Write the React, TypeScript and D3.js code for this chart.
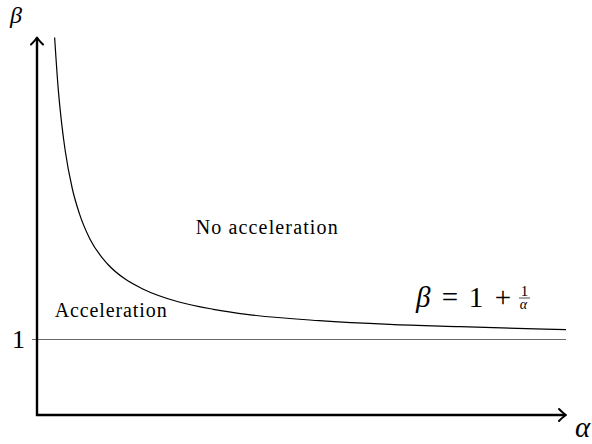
import React from "react";
import * as d3 from "d3";

const width = 592;
const height = 444;

const alphaValues = [0.25, 0.3, 0.35, 0.4, 0.5, 0.6, 0.75, 1, 1.25, 1.5, 2, 2.5, 3, 4, 5, 6, 7.5];
const betaValues = [5, 4.33, 3.86, 3.5, 3, 2.67, 2.33, 2, 1.8, 1.67, 1.5, 1.4, 1.33, 1.25, 1.2, 1.17, 1.13];

const yTicks = [1];
const yTickLabels = ["1"];

const regionLabels = ["No acceleration", "Acceleration"];
const regionAt = [
  { a: 2.25, b: 2.4 },
  { a: 0.25, b: 1.3 },
];

const x = d3.scaleLinear().domain([0, 7.5]).range([37, 566]);
const y = d3.scaleLinear().domain([0, 5]).range([415, 37.5]);

const serif = {
  fontFamily:
    '"Liberation Serif", "DejaVu Serif", "Times New Roman", Times, "Noto Serif", "Nimbus Roman", FreeSerif, serif',
};

const App = () => {
  const points: [number, number][] = alphaValues.map((a, i) => [a, betaValues[i]]);
  const line = d3
    .line<[number, number]>()
    .x((d) => x(d[0]))
    .y((d) => y(d[1]))
    .curve(d3.curveMonotoneX);

  const x0 = x(0);
  const y0 = y(0);
  const xEnd = x(7.5);
  const yTop = y(5);

  return (
    <div style={{ position: "absolute", left: 0, top: 0 }}>
      <svg width={width} height={height} style={{ display: "block", background: "#fff" }}>
        {/* beta = 1 reference line */}
        {yTicks.map((t, i) => (
          <g key={i}>
            <line x1={x0 - 5} x2={xEnd} y1={y(t)} y2={y(t)} stroke="#6a6a6a" strokeWidth={1.2} />
            <text x={x0 - 12} y={y(t) + 8.5} textAnchor="end" style={serif} fontSize={26}>
              {yTickLabels[i]}
            </text>
          </g>
        ))}

        {/* curve */}
        <path d={line(points) || ""} fill="none" stroke="#000" strokeWidth={1.2} />

        {/* axes */}
        <line x1={x0} x2={x0} y1={y0 + 1} y2={yTop + 1} stroke="#000" strokeWidth={2.4} />
        <line x1={x0 - 1} x2={xEnd - 1} y1={y0} y2={y0} stroke="#000" strokeWidth={2.4} />
        <path
          d={`M${x0 - 6},${yTop + 7} Q${x0 - 1.5},${yTop + 2.5} ${x0},${yTop} Q${x0 + 1.5},${yTop + 2.5} ${x0 + 6},${yTop + 7}`}
          fill="none"
          stroke="#000"
          strokeWidth={2}
          strokeLinecap="round"
          strokeLinejoin="round"
        />
        <path
          d={`M${xEnd - 7},${y0 - 6} Q${xEnd - 2.5},${y0 - 1.5} ${xEnd},${y0} Q${xEnd - 2.5},${y0 + 1.5} ${xEnd - 7},${y0 + 6}`}
          fill="none"
          stroke="#000"
          strokeWidth={2}
          strokeLinecap="round"
          strokeLinejoin="round"
        />

        {/* axis names */}
        <text x={10} y={23} style={serif} fontStyle="italic" fontSize={24}>
          β
        </text>
        <text x={575} y={437} style={serif} fontStyle="italic" fontSize={29}>
          α
        </text>

        {/* region labels */}
        <text
          x={x(regionAt[0].a)}
          y={y(regionAt[0].b)}
          style={serif}
          fontSize={20}
          textLength={142}
          lengthAdjust="spacing"
        >
          {regionLabels[0]}
        </text>
        <text
          x={x(regionAt[1].a)}
          y={y(regionAt[1].b)}
          style={serif}
          fontSize={20}
          textLength={112}
          lengthAdjust="spacing"
        >
          {regionLabels[1]}
        </text>

        {/* curve label */}
        <g style={serif}>
          <text x={416} y={307} fontStyle="italic" fontSize={29}>
            β
          </text>
          <text x={450} y={307} textAnchor="middle" fontSize={29}>
            =
          </text>
          <text x={476} y={307} textAnchor="middle" fontSize={29}>
            1
          </text>
          <text x={503} y={307} textAnchor="middle" fontSize={29}>
            +
          </text>
          <text x={524.5} y={295.5} textAnchor="middle" fontSize={15}>
            1
          </text>
          <line x1={519} x2={530} y1={298} y2={298} stroke="#000" strokeWidth={0.7} />
          <text x={523.5} y={309} textAnchor="middle" fontStyle="italic" fontSize={14}>
            α
          </text>
        </g>
      </svg>
    </div>
  );
};

export default App;
